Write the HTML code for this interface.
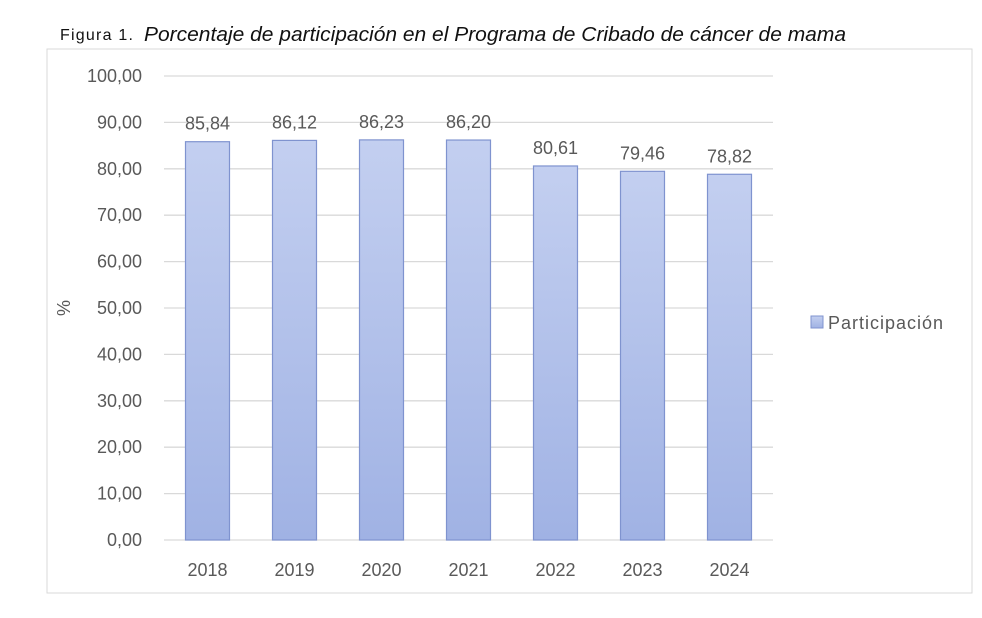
<!DOCTYPE html>
<html><head><meta charset="utf-8"><style>
body{margin:0;background:#fff;width:982px;height:613px;overflow:hidden;font-family:"Liberation Sans",sans-serif}
</style></head><body>
<svg width="982" height="613">
<defs><linearGradient id="g" x1="0" y1="0" x2="0" y2="1"><stop offset="0" stop-color="#c3cff0"/><stop offset="1" stop-color="#a0b2e4"/></linearGradient></defs>
<text x="60" y="40" font-size="16" fill="#111" textLength="73">Figura 1.</text>
<text x="144" y="41" font-size="20" font-style="italic" fill="#111" textLength="702" lengthAdjust="spacingAndGlyphs">Porcentaje de participación en el Programa de Cribado de cáncer de mama</text>
<rect x="47" y="49" width="925" height="544" fill="none" stroke="#d9d9d9"/>
<g id="grid"></g><g id="bars"></g>
<text transform="translate(70,308) rotate(-90)" text-anchor="middle" font-size="18" fill="#595959">%</text>
<rect x="811" y="316" width="12" height="12" fill="url(#g)" stroke="#7f93cf"/>
<text x="828" y="329" font-size="18" fill="#595959" textLength="115">Participación</text>
</svg>
<script>
const categories=["2018","2019","2020","2021","2022","2023","2024"];
const values=[85.84,86.12,86.23,86.20,80.61,79.46,78.82];
const ticks=[0,10,20,30,40,50,60,70,80,90,100];
const NS="http://www.w3.org/2000/svg";
const x0=164,x1=773,bw=(x1-x0)/categories.length;
const y=v=>540-v*4.64;
const fmt=v=>v.toFixed(2).replace('.',',');
function mk(t,a,p,txt){const e=document.createElementNS(NS,t);for(const k in a)e.setAttribute(k,a[k]);if(txt!=null)e.textContent=txt;p.appendChild(e);return e;}
const grid=document.getElementById('grid'),bars=document.getElementById('bars');
ticks.forEach(t=>{
 const l=mk('line',{x1:x0,x2:x1,y1:y(t),y2:y(t),stroke:'#d9d9d9','stroke-width':1.3},grid);
 
 
 const tx=mk('text',{x:142,y:y(t)+6,'text-anchor':'end','font-size':18,fill:'#595959'},grid,fmt(t));
 
 
});
categories.forEach((c,i)=>{
 const cx=x0+bw*(i+0.5),v=values[i];
 const r=mk('rect',{x:cx-22,y:y(v),width:44,height:y(0)-y(v),fill:'url(#g)',stroke:'#7f93cf','stroke-width':1.2},bars);
 
 
 const lb=mk('text',{x:cx,y:y(v)-12,'text-anchor':'middle','font-size':18,fill:'#595959'},bars,fmt(v));
 
 
 const xl=mk('text',{x:cx,y:576,'text-anchor':'middle','font-size':18,fill:'#595959'},bars,c);
 
 
});
</script>
</body></html>
